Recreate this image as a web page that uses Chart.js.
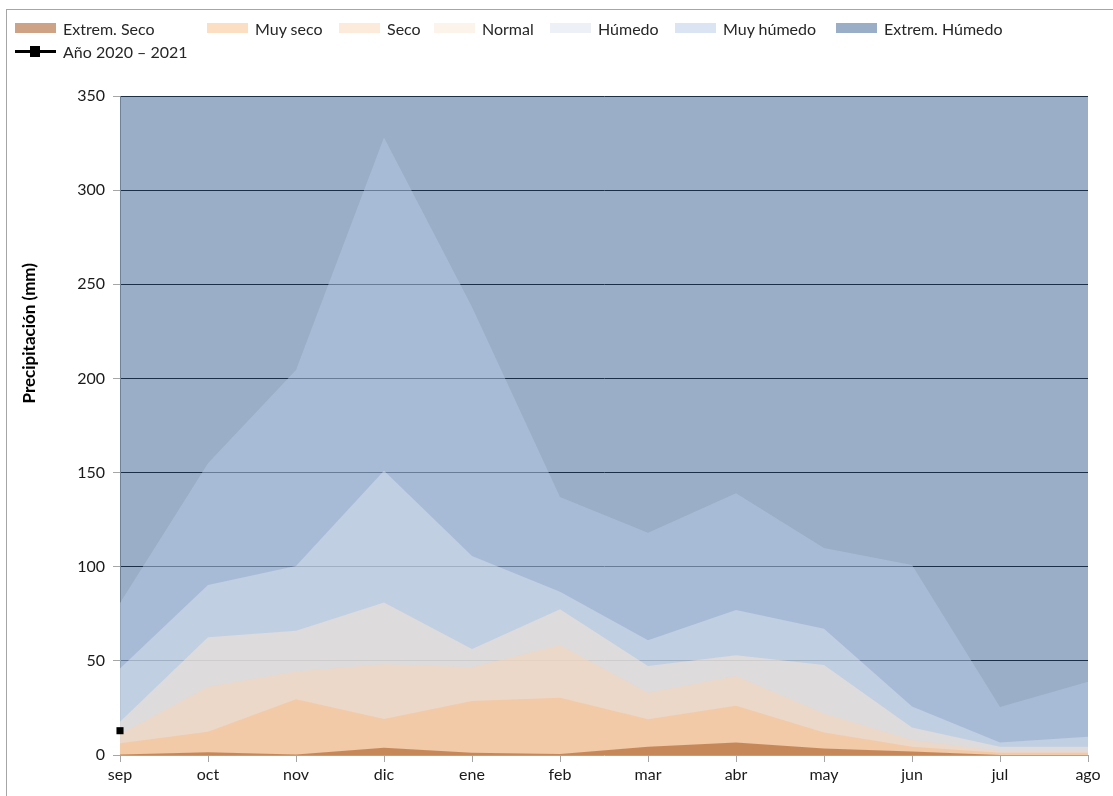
<!DOCTYPE html>
<html>
<head>
  <meta charset="utf-8">
  <title>Precipitación mensual</title>
  <script src="https://cdn.jsdelivr.net/npm/chart.js"></script>
  <style>
    body { margin: 0; background: #fff; font-family: Lato, sans-serif; }
    #wrap { position: relative; width: 1113px; height: 796px; }
    #frame { position: absolute; left: 6px; top: 9px; right: 0; bottom: 0;
             border-top: 1px solid #a6a6a6; border-left: 1px solid #a6a6a6; }
    #precipChart { position: absolute; left: 0; top: 0; }
    #legend { position: absolute; left: 0; top: 0; width: 1113px; height: 60px;
              font-size: 16px; color: #262626; }
    .item { position: absolute; display: flex; align-items: center; height: 20px; white-space: nowrap; }
    .swatch { width: 41px; height: 10px; margin-right: 7px; }
    .lineKey { position: relative; width: 41px; height: 11px; margin-right: 7px; }
    .lineKey::before { content: ''; position: absolute; left: 0; right: 0; top: 4px; height: 3px; background: #000; }
    .lineKey::after { content: ''; position: absolute; left: 15px; top: 0; width: 10px; height: 11px; background: #000; }
  </style>
</head>
<body>
  <div id="wrap">
    <div id="frame"></div>
    <canvas id="precipChart" width="1113" height="796"></canvas>
    <div id="legend"></div>
  </div>

  <script>
    // months of the hydrological year
    const months = ['sep', 'oct', 'nov', 'dic', 'ene', 'feb', 'mar', 'abr', 'may', 'jun', 'jul', 'ago'];

    // upper limit of each precipitation class (mm)
    const extremSeco  = [0.3, 1.5, 0.3, 3.9, 1.2, 0.5, 4.4, 6.7, 3.5, 1.8, 0, 0];
    const muySeco     = [6.2, 12.4, 29.6, 19.1, 28.7, 30.4, 19, 26.2, 11.9, 4.4, 1.2, 1.2];
    const seco        = [11, 36.3, 44.3, 48.2, 46.6, 58.4, 33, 42, 22, 8, 2.1, 2.1];
    const normal      = [17.7, 62.5, 66, 81, 56.3, 77.4, 47.3, 53, 47.8, 14.6, 4.4, 4.4];
    const humedo      = [46, 90.3, 100.4, 151, 105.7, 86.7, 61, 77, 67, 25.7, 6.7, 9.7];
    const muyHumedo   = [80.7, 155, 204.5, 328, 238, 137, 118, 139, 110, 100.9, 25.5, 38.9];
    const extremHumedo = [350, 350, 350, 350, 350, 350, 350, 350, 350, 350, 350, 350];

    // observed year, only september so far
    const anio2020 = [12.9, null, null, null, null, null, null, null, null, null, null, null];

    const yTicks = [0, 50, 100, 150, 200, 250, 300, 350];

    function area(label, data, color, order) {
      return {
        label: label,
        data: data,
        backgroundColor: color,
        borderWidth: 0,
        pointRadius: 0,
        tension: 0,
        fill: 'origin',
        order: order
      };
    }

    const datasets = [
      area('Extrem. Seco', extremSeco, 'rgba(157, 71, 11, 0.5)', 1),
      area('Muy seco', muySeco, 'rgba(250, 189, 136, 0.5)', 2),
      area('Seco', seco, 'rgba(250, 214, 183, 0.5)', 3),
      area('Normal', normal, 'rgba(250, 232, 215, 0.5)', 4),
      area('Húmedo', humedo, 'rgba(219, 228, 240, 0.5)', 5),
      area('Muy húmedo', muyHumedo, 'rgba(184, 202, 229, 0.5)', 6),
      area('Extrem. Húmedo', extremHumedo, 'rgba(53, 93, 143, 0.5)', 7),
      {
        label: 'Año 2020 – 2021',
        data: anio2020,
        borderColor: '#000',
        backgroundColor: '#000',
        borderWidth: 3,
        pointStyle: 'rect',
        pointRadius: 5,
        pointBorderWidth: 0,
        fill: false,
        clip: false,
        order: 0
      }
    ];

    // vertical axis title placed like the original sheet
    const yTitlePlugin = {
      id: 'yTitle',
      afterDraw(chart) {
        const ctx = chart.ctx;
        const area = chart.chartArea;
        ctx.save();
        ctx.translate(30, area.top + (area.bottom - area.top) * 0.36);
        ctx.rotate(-Math.PI / 2);
        ctx.font = 'bold 17px Lato';
        ctx.fillStyle = '#000';
        ctx.textAlign = 'center';
        ctx.textBaseline = 'middle';
        ctx.fillText('Precipitación (mm)', 0, 0);
        ctx.restore();
      }
    };

    const chart = new Chart(document.getElementById('precipChart'), {
      type: 'line',
      data: { labels: months, datasets: datasets },
      options: {
        responsive: false,
        animation: false,
        layout: { padding: { top: 96, right: 25, left: 0, bottom: 0 } },
        plugins: {
          legend: { display: false },
          tooltip: { enabled: false }
        },
        scales: {
          x: {
            offset: false,
            afterFit: (scale) => { scale.height = 41; },
            grid: { drawOnChartArea: false, tickLength: 7, tickColor: '#a6a6a6' },
            border: { color: '#a6a6a6' },
            ticks: { color: '#1a1a1a', font: { family: 'Lato', size: 16 }, padding: 3, maxRotation: 0 }
          },
          y: {
            min: 0,
            max: 350,
            afterFit: (scale) => { scale.width = 120; },
            afterBuildTicks: (scale) => { scale.ticks = yTicks.map(v => ({ value: v })); },
            grid: {
              color: (c) => c.tick && c.tick.value === 0 ? 'rgba(0,0,0,0)' : '#000',
              tickLength: 7,
              tickColor: '#a6a6a6'
            },
            border: { color: '#a6a6a6' },
            ticks: { color: '#1a1a1a', font: { family: 'Lato', size: 16 }, padding: 8 }
          }
        }
      },
      plugins: [yTitlePlugin]
    });

    // legend laid out in two rows like the original
    const legendSpots = [
      [15, 28], [207, 28], [339, 28], [434, 28], [550, 28], [675, 28], [836, 28], [15, 51]
    ];
    function buildLegend() {
      const box = document.getElementById('legend');
      box.innerHTML = '';
      chart.data.datasets.forEach((ds, i) => {
        const item = document.createElement('div');
        item.className = 'item';
        item.style.left = legendSpots[i][0] + 'px';
        item.style.top = (legendSpots[i][1] - 10) + 'px';
        const key = document.createElement('span');
        if (ds.fill === 'origin') {
          key.className = 'swatch';
          key.style.background = ds.backgroundColor;
        } else {
          key.className = 'lineKey';
        }
        const text = document.createElement('span');
        text.textContent = ds.label;
        item.appendChild(key);
        item.appendChild(text);
        box.appendChild(item);
      });
    }
    buildLegend();
  </script>
</body>
</html>
